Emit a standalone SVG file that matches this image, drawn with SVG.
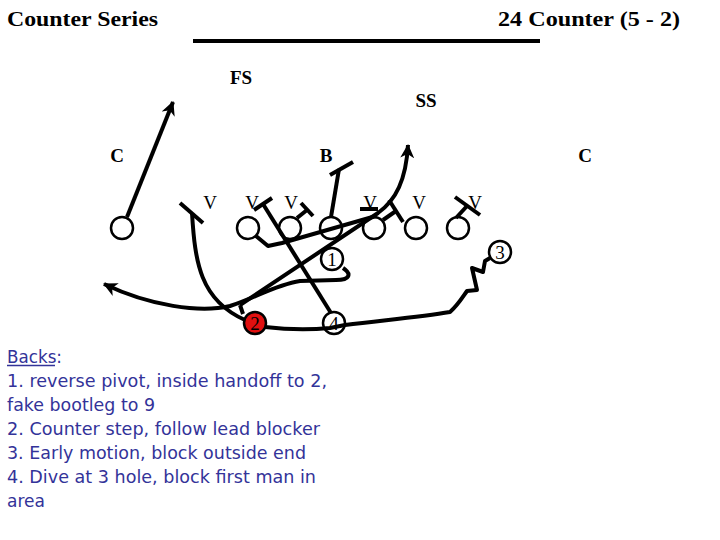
<svg xmlns="http://www.w3.org/2000/svg" width="720" height="540" viewBox="0 0 720 540">
<style>
.title{font-family:"Liberation Serif","Times New Roman",serif;font-weight:bold;font-size:22px;fill:#000}
.lbl{font-family:"Liberation Serif","Times New Roman",serif;font-weight:bold;font-size:19px;fill:#000;text-anchor:middle}
.v{font-family:"Liberation Serif","Times New Roman",serif;font-size:19px;fill:#000;text-anchor:middle}
.num{font-family:"Liberation Serif","Times New Roman",serif;font-size:19px;fill:#000;text-anchor:middle}
.pl{fill:#fff;stroke:#000;stroke-width:2.5}
.red{fill:#e01010;stroke:#000;stroke-width:2.5}
.ln{fill:none;stroke:#000;stroke-width:4;stroke-linecap:butt;stroke-linejoin:round}
.bk{font-family:"DejaVu Sans",Tahoma,Verdana,sans-serif;font-size:18px;fill:#333399}
</style>
<defs>
<marker id="ah" markerUnits="userSpaceOnUse" markerWidth="16" markerHeight="14" refX="13" refY="7" orient="auto">
<path d="M0,0 L14,7 L0,14 L4,7 Z" fill="#000"/>
</marker>
</defs>
<rect width="720" height="540" fill="#fff"/>
<g id="header">
<text class="title" x="7" y="26" textLength="151" lengthAdjust="spacingAndGlyphs">Counter Series</text>
<text class="title" x="680" y="26" text-anchor="end" textLength="182" lengthAdjust="spacingAndGlyphs">24 Counter (5 - 2)</text>
<line x1="193" y1="41" x2="540" y2="41" stroke="#000" stroke-width="4"/>
</g>
<g id="defense">
<text class="lbl" x="241" y="84">FS</text>
<text class="lbl" x="426" y="107">SS</text>
<text class="lbl" x="117" y="162">C</text>
<text class="lbl" x="326" y="162">B</text>
<text class="lbl" x="585" y="162">C</text>
<text class="v" x="210" y="209">V</text>
<text class="v" x="252" y="209">V</text>
<text class="v" x="291" y="209">V</text>
<text class="v" x="370" y="209">V</text>
<text class="v" x="419" y="209">V</text>
<text class="v" x="475" y="209">V</text>
</g>
<g id="offense">
<circle id="se" class="pl" cx="122" cy="228" r="11"/>
<circle id="lg" class="pl" cx="248" cy="228" r="11"/>
<circle id="lt" class="pl" cx="290" cy="228" r="11"/>
<circle id="ctr" class="pl" cx="331" cy="228" r="11"/>
<circle id="rg" class="pl" cx="374" cy="228" r="11"/>
<circle id="rt" class="pl" cx="416" cy="228" r="11"/>
<circle id="te" class="pl" cx="458" cy="228" r="11"/>
<circle id="b1" class="pl" cx="332" cy="259" r="11"/>
<circle id="b2" class="red" cx="255" cy="323" r="11"/>
<circle id="b4" class="pl" cx="334" cy="323" r="11"/>
<circle id="b3" class="pl" cx="500" cy="252" r="11"/>
</g>
<g id="connectors">
<line class="ln" x1="127" y1="217" x2="173" y2="102" marker-end="url(#ah)"/>
<line class="ln" x1="180" y1="203" x2="203" y2="223"/>
<path class="ln" d="M192,213 C195,262 200,300 245,320"/>
<line class="ln" x1="254" y1="210" x2="272" y2="198"/>
<line class="ln" x1="263" y1="204" x2="331" y2="313"/>
<path class="ln" d="M297,218 L307,210"/>
<line class="ln" x1="301" y1="203" x2="313" y2="216"/>
<path class="ln" d="M331,217 L339,169"/>
<line class="ln" x1="330" y1="175" x2="353" y2="162"/>
<path class="ln" d="M256,236 L268,246 L282,243 L376,216"/>
<line class="ln" x1="360" y1="209" x2="378" y2="209"/>
<path class="ln" d="M383,220 L396,211"/>
<line class="ln" x1="389" y1="200" x2="403" y2="222"/>
<path class="ln" d="M456,218 L467,206"/>
<line class="ln" x1="455" y1="197" x2="480" y2="215"/>
<path class="ln" d="M343,268 C352,274 350,280 336,280 L300,281 C275,285 255,298 230,306 C200,313 150,306 104,284" marker-end="url(#ah)"/>
<path class="ln" d="M243,314 L240,305"/>
<path class="ln" d="M240,305 L378,213 C396,200 406,180 408,145" marker-end="url(#ah)"/>
<path class="ln" d="M265,327 C290,330 310,330 330,328 L345,325 C385,320 420,317 450,312 C458,305 462,298 467,291 L477,290 L472,268 L483,272 L485,261 L490,258"/>
</g>
<g id="numbers">
<text class="num" x="332" y="266">1</text>
<text class="num" x="255" y="330" fill="#300">2</text>
<text class="num" x="334" y="330">4</text>
<text class="num" x="500" y="259">3</text>
</g>
<g id="notes">
<text class="bk" x="7" y="363" textLength="55" lengthAdjust="spacingAndGlyphs">Backs:</text>
<line x1="7" y1="365.5" x2="55" y2="365.5" stroke="#333399" stroke-width="1.3"/>
<text class="bk" x="7" y="387" textLength="320" lengthAdjust="spacingAndGlyphs">1. reverse pivot, inside handoff to 2,</text>
<text class="bk" x="7" y="411" textLength="148" lengthAdjust="spacingAndGlyphs">fake bootleg to 9</text>
<text class="bk" x="7" y="435" textLength="313" lengthAdjust="spacingAndGlyphs">2. Counter step, follow lead blocker</text>
<text class="bk" x="7" y="459" textLength="299" lengthAdjust="spacingAndGlyphs">3. Early motion, block outside end</text>
<text class="bk" x="7" y="483" textLength="309" lengthAdjust="spacingAndGlyphs">4. Dive at 3 hole, block first man in</text>
<text class="bk" x="7" y="507" textLength="38" lengthAdjust="spacingAndGlyphs">area</text>
</g>
</svg>
